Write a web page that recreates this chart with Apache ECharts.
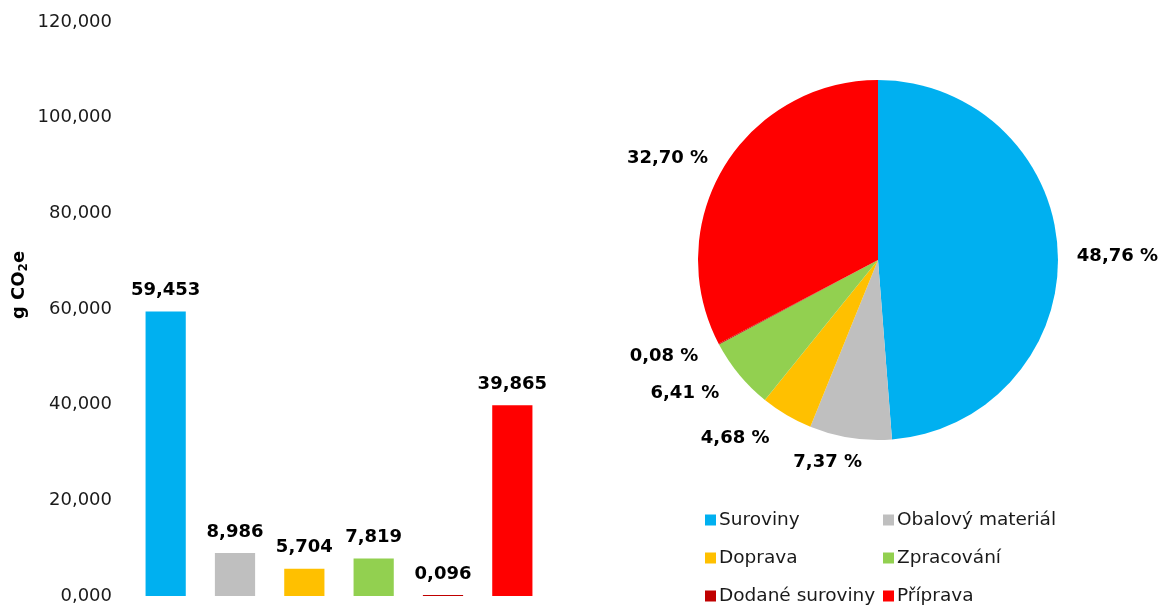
<!DOCTYPE html>
<html>
<head>
<meta charset="utf-8">
<script src="https://cdn.jsdelivr.net/npm/echarts@6/dist/echarts.min.js"></script>
<style>html,body{margin:0;padding:0;background:#fff;}#c{width:1167px;height:605px;}</style>
</head>
<body>
<div id="c"></div>
<script>
const categories = ['Suroviny', 'Obalový materiál', 'Doprava', 'Zpracování', 'Dodané suroviny', 'Příprava'];
const values = [59.453, 8.986, 5.704, 7.819, 0.096, 39.865];
const colors = ['#00B0F0', '#BFBFBF', '#FFC000', '#92D050', '#C00000', '#FF0000'];
const yMin = 0, yMax = 120, yStep = 20;
// small label nudges (style only) for pie percentage labels
const pieLabelNudge = [[-9, 4], [21, 3], [0, 4], [3, 5], [5, 2], [9, 3]];

const FONT = '"DejaVu Sans", Verdana, sans-serif';
const fmt3 = v => Number(v).toFixed(3).replace('.', ',');

const chart = echarts.init(document.getElementById('c'));
chart.setOption({
  animation: false,
  textStyle: { fontFamily: FONT },
  grid: { left: 131, right: 620, top: 22, bottom: 9, containLabel: false },
  xAxis: {
    type: 'category', data: categories,
    axisLine: { show: false }, axisTick: { show: false }, axisLabel: { show: false }
  },
  yAxis: {
    type: 'value', min: yMin, max: yMax, interval: yStep,
    axisLine: { show: false }, axisTick: { show: false }, splitLine: { show: false },
    axisLabel: { formatter: fmt3, fontSize: 18, color: '#1a1a1a', margin: 19, fontFamily: FONT },
    name: 'g CO{sub|2}e', nameLocation: 'middle', nameGap: 101, nameRotate: 90,
    nameTextStyle: {
      fontSize: 18, fontWeight: 'bold', color: '#000', fontFamily: FONT, padding: [0, 0, 0, 48],
      rich: { sub: { fontSize: 12, fontWeight: 'bold', verticalAlign: 'bottom', padding: [9, 0, 0, 0], fontFamily: FONT } }
    }
  },
  legend: {
    data: categories, left: 705, top: 501, width: 360, orient: 'horizontal', padding: 0,
    icon: 'rect', itemWidth: 11, itemHeight: 11, itemGap: 0,
    selectedMode: false,
    textStyle: { fontSize: 18.5, color: '#1a1a1a', width: 164, height: 38, lineHeight: 38, fontFamily: FONT, padding: [0, 0, 0, -2] }
  },
  series: [
    {
      type: 'bar', barWidth: '58%', barMinHeight: 1,
      data: values.map((v, i) => ({ value: v, itemStyle: { color: colors[i] } })),
      label: { show: true, position: 'top', distance: 12, formatter: p => fmt3(p.value),
        fontSize: 18, fontWeight: 'bold', color: '#000', fontFamily: FONT }
    },
    {
      type: 'pie', center: [878, 260], radius: 180, startAngle: 90, clockwise: true,
      avoidLabelOverlap: true,
      data: categories.map((n, i) => ({ name: n, value: values[i], itemStyle: { color: colors[i] } })),
      label: { show: true, position: 'outside', overflow: 'none', formatter: p => p.percent.toFixed(2).replace('.', ',') + ' %',
        fontSize: 18, fontWeight: 'bold', color: '#000', fontFamily: FONT },
      labelLine: { show: false, length: 22, length2: 1 },
      labelLayout: p => ({ dx: pieLabelNudge[p.dataIndex][0], dy: pieLabelNudge[p.dataIndex][1] })
    }
  ]
});
</script>
</body>
</html>
